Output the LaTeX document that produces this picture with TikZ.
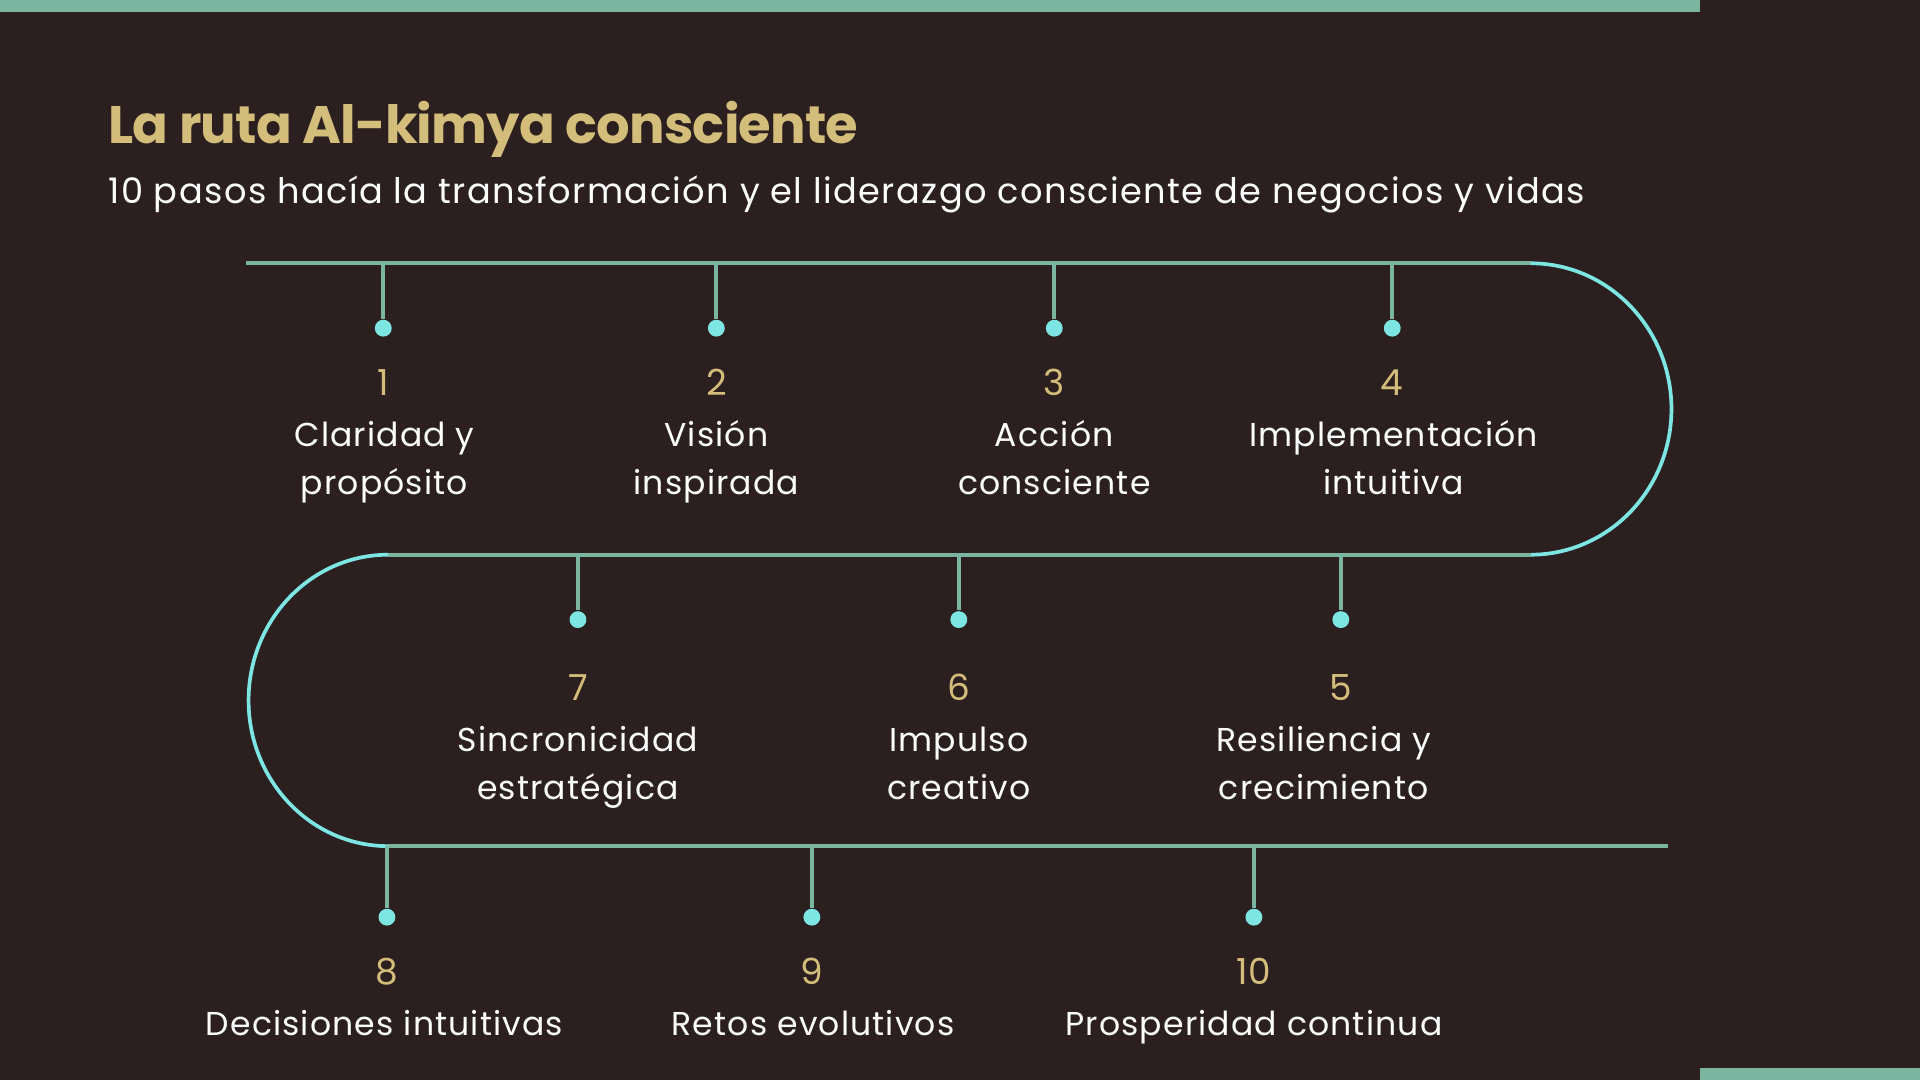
\documentclass[tikz,border=0pt]{standalone}
\usepackage{fontspec}
\setmainfont{Poppins}
\usetikzlibrary{positioning}
\definecolor{bgbrown}{HTML}{2C1F1F}
\definecolor{railteal}{HTML}{7AB5A2}
\definecolor{bendcyan}{HTML}{7DE6E3}
\definecolor{numgold}{HTML}{D3BD7B}
\newcommand{\lblfont}{\fontsize{9.4}{13.6}\selectfont\addfontfeature{LetterSpace=3.5}}
\begin{document}
\begin{tikzpicture}[x=0.012245cm, y=-0.012245cm,
    rail/.style={draw=railteal, line width=1.05pt},
    turnarc/.style={draw=bendcyan, line width=1.05pt},
    dot/.style={circle, fill=bendcyan, inner sep=0pt, minimum size=4.8pt},
    num/.style={text=numgold, font=\fontsize{10.2}{12}\selectfont, anchor=base, inner sep=0pt},
    lbl/.style={text=white, font=\lblfont, align=center, anchor=base, inner sep=0pt}]
  % background and bars
  \fill[bgbrown] (0,0) rectangle (1568,882);
  \fill[railteal] (0,0) rectangle (1388,10);
  \fill[railteal] (1388,872) rectangle (1568,882);
  \node[anchor=base west, inner sep=0pt, text=numgold, font=\fontsize{15}{18}\selectfont\bfseries\addfontfeature{LetterSpace=-1.5}] (title) at (88,117) {La ruta Al-kimya consciente};
  \node[anchor=base west, inner sep=0pt, text=white, font=\fontsize{10}{12}\selectfont\addfontfeature{LetterSpace=4}] (subtitle) at (88,166) {10 pasos hacía la transformación y el liderazgo consciente de negocios y vidas};
  % the winding path
  \coordinate (topL) at (201,215);
  \coordinate (topR) at (1250,215);
  \coordinate (midR) at (1250,453);
  \coordinate (midL) at (317,453);
  \coordinate (botL) at (317,691);
  \coordinate (botR) at (1362,691);
  \draw[rail] (topL) -- (topR);
  \draw[turnarc] (topR) arc[start angle=-90, end angle=90, x radius=115, y radius=119];
  \draw[rail] (midR) -- (midL);
  \draw[turnarc] (midL) arc[start angle=-90, end angle=-270, x radius=114, y radius=119];
  \draw[rail] (botL) -- (botR);
  % steps (label y = baseline of the last line)
  \foreach \sx/\ry/\dy/\ny/\lx/\ly/\n/\txt in {
      313/215/268/323/314/404/1/{Claridad y\\propósito},
      585/215/268/323/585/404/2/{Visión\\inspirada},
      861/215/268/323/861/404/3/{Acción\\consciente},
      1137/215/268/323/1138/404/4/{Implementación\\intuitiva},
      1095/453/506/572/1081/653/5/{Resiliencia y\\crecimiento},
      783/453/506/572/783/653/6/{Impulso\\creativo},
      472/453/506/572/472/653/7/{Sincronicidad\\estratégica},
      316/691/749/804/314/846/8/{Decisiones intuitivas},
      663/691/749/804/664/846/9/{Retos evolutivos},
      1024/691/749/804/1024/846/10/{Prosperidad continua}}
  {
    \coordinate (s\n) at (\sx,\ry);
    \node[dot] (d\n) at (\sx,\dy) {};
    \draw[rail] (s\n) -- (d\n);
    \node[num] (n\n) at (\sx,\ny) {\n};
    \node[lbl] (l\n) at (\lx,\ly) {\txt};
  }
\end{tikzpicture}
\end{document}
